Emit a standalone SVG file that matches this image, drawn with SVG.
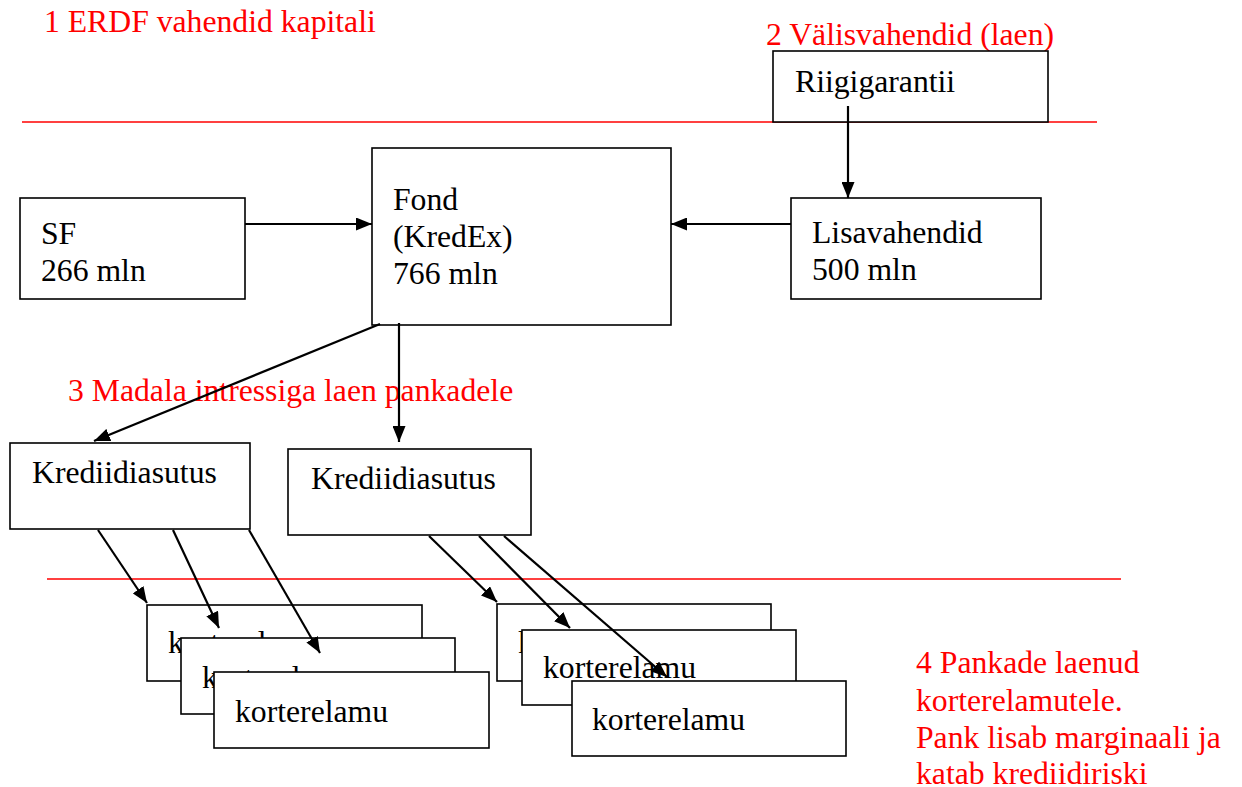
<svg xmlns="http://www.w3.org/2000/svg" width="1242" height="787" viewBox="0 0 1242 787">
<style>
.box{fill:#fff;stroke:#000;stroke-width:1.6}
.sep{stroke:#ff0000;stroke-width:1.6;fill:none}
.c{stroke:#000;stroke-width:2.2;fill:none;marker-end:url(#ah)}
</style>
<defs>
<marker id="ah" viewBox="0 0 16 13" refX="16" refY="6.5" markerWidth="16" markerHeight="13" markerUnits="userSpaceOnUse" orient="auto">
<path d="M0,0 L16,6.5 L0,13 z" fill="#000"/>
</marker>
</defs>
<rect width="1242" height="787" fill="#fff"/>
<g id="labels">
<text style="font-family:'Liberation Serif',serif;font-size:31.7px;fill:#ff0000" x="44" y="32">1 ERDF vahendid kapitali</text>
<text style="font-family:'Liberation Serif',serif;font-size:31.7px;fill:#ff0000" x="766" y="45">2 Välisvahendid (laen)</text>
<text style="font-family:'Liberation Serif',serif;font-size:31.7px;fill:#ff0000" x="68" y="401">3 Madala intressiga laen pankadele</text>
<text style="font-family:'Liberation Serif',serif;font-size:31.7px;fill:#ff0000" x="916" y="673">4 Pankade laenud</text>
<text style="font-family:'Liberation Serif',serif;font-size:31.7px;fill:#ff0000" x="916" y="711">korterelamutele.</text>
<text style="font-family:'Liberation Serif',serif;font-size:31.7px;fill:#ff0000" x="916" y="748">Pank lisab marginaali ja</text>
<text style="font-family:'Liberation Serif',serif;font-size:31.7px;fill:#ff0000" x="916" y="784">katab krediidiriski</text>
</g>
<g id="separators">
<line class="sep" x1="22" y1="122" x2="1097" y2="122"/>
<line class="sep" x1="47" y1="579" x2="1121" y2="579"/>
</g>
<g id="riigigarantii">
<rect class="box" x="773" y="51" width="275" height="71"/>
<text style="font-family:'Liberation Serif',serif;font-size:31.7px;fill:#000" x="795" y="92">Riigigarantii</text>
</g>
<g id="sf">
<rect class="box" x="20" y="198" width="225" height="101"/>
<text style="font-family:'Liberation Serif',serif;font-size:31.7px;fill:#000" x="41" y="244">SF</text>
<text style="font-family:'Liberation Serif',serif;font-size:31.7px;fill:#000" x="41" y="281">266 mln</text>
</g>
<g id="fond">
<rect class="box" x="372" y="148" width="299" height="177"/>
<text style="font-family:'Liberation Serif',serif;font-size:31.7px;fill:#000" x="393" y="210">Fond</text>
<text style="font-family:'Liberation Serif',serif;font-size:31.7px;fill:#000" x="393" y="247">(KredEx)</text>
<text style="font-family:'Liberation Serif',serif;font-size:31.7px;fill:#000" x="393" y="284">766 mln</text>
</g>
<g id="lisavahendid">
<rect class="box" x="791" y="198" width="250" height="101"/>
<text style="font-family:'Liberation Serif',serif;font-size:31.7px;fill:#000" x="812" y="243">Lisavahendid</text>
<text style="font-family:'Liberation Serif',serif;font-size:31.7px;fill:#000" x="812" y="280">500 mln</text>
</g>
<g id="krediidiasutus1">
<rect class="box" x="10" y="443" width="240" height="86"/>
<text style="font-family:'Liberation Serif',serif;font-size:31.7px;fill:#000" x="32" y="483">Krediidiasutus</text>
</g>
<g id="krediidiasutus2">
<rect class="box" x="288" y="449" width="243" height="86"/>
<text style="font-family:'Liberation Serif',serif;font-size:31.7px;fill:#000" x="311" y="489">Krediidiasutus</text>
</g>
<g id="korterelamu-l1">
<rect class="box" x="147" y="605" width="275" height="76"/>
<text style="font-family:'Liberation Serif',serif;font-size:31.7px;fill:#000" x="168" y="653">korterelamu</text>
</g>
<g id="korterelamu-l2">
<rect class="box" x="181" y="638" width="274" height="76"/>
<text style="font-family:'Liberation Serif',serif;font-size:31.7px;fill:#000" x="202" y="688">korterelamu</text>
</g>
<g id="korterelamu-l3">
<rect class="box" x="214" y="672" width="275" height="76"/>
<text style="font-family:'Liberation Serif',serif;font-size:31.7px;fill:#000" x="235" y="722">korterelamu</text>
</g>
<g id="korterelamu-r1">
<rect class="box" x="497" y="604" width="274" height="77"/>
<text style="font-family:'Liberation Serif',serif;font-size:31.7px;fill:#000" x="518" y="653">korterelamu</text>
</g>
<g id="korterelamu-r2">
<rect class="box" x="522" y="630" width="274" height="75"/>
<text style="font-family:'Liberation Serif',serif;font-size:31.7px;fill:#000" x="543" y="678">korterelamu</text>
</g>
<g id="korterelamu-r3">
<rect class="box" x="572" y="681" width="274" height="75"/>
<text style="font-family:'Liberation Serif',serif;font-size:31.7px;fill:#000" x="592" y="730">korterelamu</text>
</g>
<g id="connectors">
<line class="c" x1="245" y1="224" x2="372" y2="224"/>
<line class="c" x1="791" y1="224" x2="671" y2="224"/>
<line class="c" x1="848" y1="106" x2="848" y2="198"/>
<line class="c" x1="380" y1="324" x2="94" y2="441"/>
<line class="c" x1="399" y1="323" x2="399" y2="442"/>
<line class="c" x1="98" y1="530" x2="147" y2="603"/>
<line class="c" x1="173" y1="530" x2="219" y2="628"/>
<line class="c" x1="249" y1="530" x2="320" y2="653"/>
<line class="c" x1="429" y1="536" x2="497" y2="602"/>
<line class="c" x1="479" y1="536" x2="570" y2="628"/>
<line class="c" x1="504" y1="536" x2="667" y2="677"/>
</g>
</svg>
